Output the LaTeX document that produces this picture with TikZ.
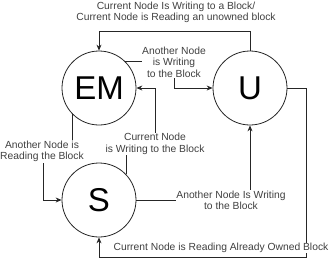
\documentclass[tikz,border=0pt]{standalone}
\usepackage{fontspec}
\setmainfont{Liberation Sans}
\usetikzlibrary{arrows.meta}
\begin{document}
\begin{tikzpicture}[x=1pt,y=-1pt,
  state/.style={draw=black!85,line width=0.8pt,circle,minimum size=74pt,inner sep=0pt,font=\fontsize{33}{36}\selectfont},
  conn/.style={draw=black!85,line width=0.8pt,-{Stealth[length=6pt,width=5pt]}},
  lbl/.style={fill=white,inner sep=0.5pt,align=center,text=black!75,font=\fontsize{10.3}{11.5}\selectfont}]
\useasboundingbox (0,0) rectangle (330,266);
\node[state] (EM) at (99,88) {EM};
\node[state] (U) at (250,88) {U};
\node[state] (S) at (99,200) {S};
% U -> EM
\draw[conn] (U.north) |- (99,31) -- (EM.north);
\node[lbl,fill=none] (l1) at (176,12.5) {Current Node Is Writing to a Block/\\Current Node is Reading an unowned block};
% EM -> U
\draw[conn] (EM.45) -| (174,88) -- (U.west);
\node[lbl] (l2) at (174,62) {Another Node\\is Writing\\to the Block};
% S -> EM
\draw[conn] (S.43) |- (155,144) |- (EM.east);
\node[lbl] (l3) at (155,144) {Current Node\\is Writing to the Block};
% EM -> S
\draw[conn] (EM.225) |- (43,151) |- (S.west);
\node[lbl] (l4) at (42,151.5) {Another Node is\\Reading the Block};
% S -> U
\draw[conn] (S.east) -| (U.south);
\node[lbl] (l5) at (231,200.5) {Another Node Is Writing\\to the Block};
% U -> S
\draw[conn] (U.east) -| (306,257) -| (S.south);
\node[lbl] (l6) at (221,248) {Current Node is Reading Already Owned Block};
\end{tikzpicture}
\end{document}
